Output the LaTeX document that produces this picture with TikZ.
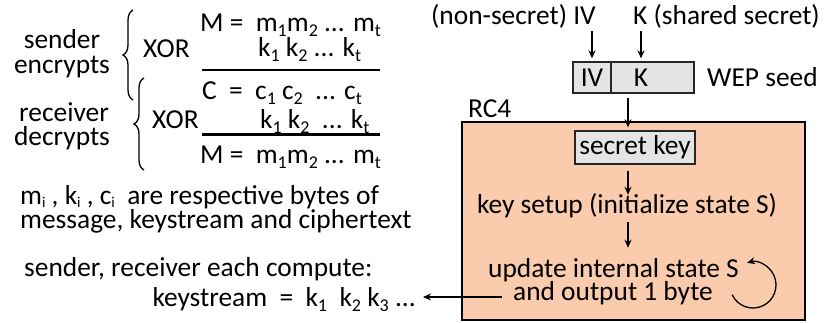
\documentclass[tikz,border=0pt]{standalone}
\usepackage{fontspec}
\setmainfont{Carlito}
\usetikzlibrary{arrows.meta,decorations.pathreplacing}
\definecolor{rcfill}{RGB}{250,203,172}
\definecolor{seedfill}{RGB}{228,228,228}
% lowered, smaller text for indices
\newcommand\lo[1]{\raisebox{-0.2em}{\fontsize{18}{18}\selectfont #1}}
\newcommand\loi[1]{\raisebox{-0.12em}[\height][0pt]{\fontsize{15}{15}\selectfont #1}}
\begin{document}
\begin{tikzpicture}[x=1pt, y=-1pt,
  font=\fontsize{27.4}{24}\selectfont,
  txt/.style={inner sep=0pt, anchor=base},
  txtw/.style={inner sep=0pt, anchor=base west},
  txte/.style={inner sep=0pt, anchor=base east},
  arr/.style={-{Stealth[length=8pt,width=7pt]}, line width=1.4pt},
  rulel/.style={line width=2.4pt},
  brc/.style={decorate, decoration={brace, amplitude=10pt}, line width=1.3pt},
  seed/.style={draw=black!85, fill=seedfill, line width=1.3pt, inner sep=0pt}]
\useasboundingbox (0,0) rectangle (825,322);

% ---------- left: XOR of message and keystream ----------
\node[txt] (snd) at (62,48) {sender};
\node[txt] (enc) at (62,73) {encrypts};
\node[txt] (rcv) at (64,121) {receiver};
\node[txt] (dec) at (62,145) {decrypts};

\coordinate (b1top) at (133,10);
\coordinate (b1bot) at (133,100);
\coordinate (b2top) at (144,78);
\coordinate (b2bot) at (144,170);
\draw[brc] (b1bot) -- (b1top);
\draw[brc] (b2bot) -- (b2top);

\node[txtw] (xor1) at (143,57) {XOR};
\node[txtw] (xor2) at (152,128) {XOR};

\node[txtw] (m1) at (200,31) {M =~~m\lo{1}m\lo{2} ... m\lo{t}};
\node[txtw] (k1) at (258,56) {k\lo{1} k\lo{2} ... k\lo{t}};
\coordinate (ra1) at (202,70);
\coordinate (ra2) at (380,70);
\draw[rulel] (ra1) -- (ra2);
\node[txtw] (c1) at (202,99) {C~~=~~c\lo{1} c\lo{2}~~... c\lo{t}};
\node[txtw] (k2) at (260,128) {k\lo{1} k\lo{2}~~... k\lo{t}};
\coordinate (rb1) at (202,134.5);
\coordinate (rb2) at (380,134.5);
\draw[rulel] (rb1) -- (rb2);
\node[txtw] (m2) at (200,163) {M =~~m\lo{1}m\lo{2} ... m\lo{t}};

\node[txtw] (idx) at (20,204) {m\loi{i} , k\loi{i} , c\loi{i}~~are respective bytes of};
\node[txtw] (msg) at (20,228) {message, keystream and ciphertext};
\node[txtw] (both) at (24,276) {sender, receiver each compute:};
\node[txte, text height=11pt, text depth=5pt] (ks) at (416,306)
  {keystream~~=~~k\lo{1}~~k\lo{2} k\lo{3} ...};

% ---------- right: WEP seed feeding RC4 ----------
\node[txte] (ivtitle) at (596,24) {(non-secret) IV};
\node[txtw] (ktitle) at (633,24) {K (shared secret)};

\node[seed, minimum width=38pt, minimum height=31pt] (ivcell) at (592,77.5) {};
\node[seed, minimum width=83pt, minimum height=31pt] (kcell) at (652.5,77.5) {};
\node[txt] (ivlbl) at (592,86) {IV};
\node[txt] (klbl) at (641,86) {K};
\node[txtw] (wep) at (707,86) {WEP seed};

\draw[arr, shorten <=3pt, shorten >=3pt] (ivtitle.south -| ivcell.north) -- (ivcell.north);
\draw[arr, shorten <=3pt, shorten >=3pt] (ktitle.south -| klbl) -- (klbl |- kcell.north);

\node[txtw] (rc4) at (468,117) {RC4};
\node[draw=black, fill=rcfill, line width=1.6pt, minimum width=343pt,
      minimum height=198pt, inner sep=0pt] (rcbox) at (633.5,221) {};

\node[seed, minimum width=120pt, minimum height=33pt, text height=19pt,
      text depth=5pt] (skey) at (635,147.5) {secret key};
\node[txt] (setup) at (627,213) {key setup (initialize state S)};
\node[txt] (upd1) at (613.5,277) {update internal state S};
\node[txt, text height=11pt, text depth=5pt] (upd2) at (613,300) {and output 1 byte};

\coordinate (spine) at (628,0);
\draw[arr, shorten <=4pt, shorten >=3pt] (kcell.south -| spine) -- (skey.north -| spine);
\draw[arr, shorten <=6pt, shorten >=-2pt] (skey.south -| spine) -- (setup.north -| spine);
\draw[arr, shorten <=4pt, shorten >=10pt] (setup.south -| spine) -- (upd1.north -| spine);

% keystream bytes leave the generator
\draw[arr, shorten <=11pt, shorten >=7pt] (upd2.west) -- (upd2.west -| ks.east);

% state update repeats
\coordinate (loopc) at (753,285);
\draw[arr, line width=1.3pt] ([shift={(205:23pt)}]loopc) arc[start angle=205, end angle=465, radius=23pt];
\end{tikzpicture}
\end{document}
